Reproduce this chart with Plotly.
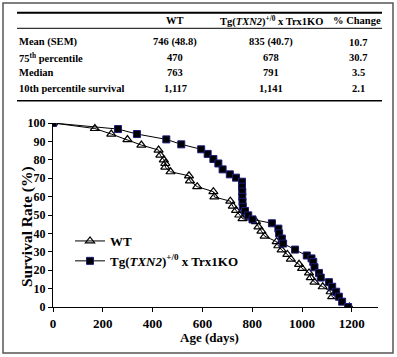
import plotly.graph_objects as go

# ---- data ----
wt_days = [0, 168, 234, 299, 355, 424, 431, 445, 451, 451, 472, 546, 550, 579, 644, 648,
           712, 722, 735, 748, 761, 815, 825, 837, 850, 898, 905, 918, 941, 955, 988, 1000,
           1028, 1035, 1050, 1083, 1115, 1121, 1190]
wt_surv = [100, 97, 94, 91, 88, 85.3, 82.5, 80, 78, 76, 73.5, 71.3, 68.6, 65.4, 62.7, 59.8,
           57.5, 54.8, 52.5, 50, 48, 46.4, 43.6, 41.2, 38.5, 35.5, 33.3, 31, 28.6, 26, 23.2, 21,
           18.5, 16, 13.5, 11, 8.3, 5.6, 0]

tg_days = [0, 261, 337, 455, 515, 595, 621, 644, 664, 681, 710, 735, 759, 759, 760, 760,
           761, 762, 771, 784, 801, 879, 905, 908, 919, 924, 972, 1019, 1038, 1045, 1050,
           1068, 1075, 1108, 1121, 1137, 1148, 1161, 1185]
tg_surv = [100, 96.7, 94, 91.1, 88.4, 85.7, 83.2, 80.4, 78, 74.8, 72.1, 70.3, 68.1, 65.4, 62.7, 59.9,
           57.2, 54.5, 52.2, 49.8, 47.6, 45.5, 42.6, 40, 37.2, 34.5, 31.2, 28, 26.4, 24.5, 21.6,
           18.5, 16, 13.5, 11, 8.3, 5.6, 2.9, 0]

x_ticks = [0, 200, 400, 600, 800, 1000, 1200]
y_ticks = [0, 10, 20, 30, 40, 50, 60, 70, 80, 90, 100]

table_header = ["", "WT", "Tg(<i>TXN2</i>)<sup>+/0</sup> x Trx1KO", "% Change"]
row_labels = ["Mean (SEM)", "75<sup>th</sup> percentile", "Median", "10th percentile survival"]
wt_col = ["746 (48.8)", "470", "763", "1,117"]
tg_col = ["835 (40.7)", "678", "791", "1,141"]
pct_col = ["10.7", "30.7", "3.5", "2.1"]

# ---- layout geometry (pixels) ----
W, H = 397, 357
L, R, T, B = 53, 19, 123, 50
PW, PH = W - L - R, H - T - B
FONT = "Liberation Serif"


def px(x):
    return (x - L) / PW


def py(y):
    return (H - B - y) / PH


fig = go.Figure()
fig.add_trace(go.Scatter(
    x=wt_days, y=wt_surv, mode="lines+markers", name="WT",
    line=dict(color="black", width=1),
    marker=dict(symbol="triangle-up-open", size=8, color="black", line=dict(width=1.2, color="black")),
))
fig.add_trace(go.Scatter(
    x=tg_days, y=tg_surv, mode="lines+markers",
    name="Tg(<i>TXN2</i>)<sup>+/0</sup> x Trx1KO",
    line=dict(color="black", width=1),
    marker=dict(symbol="square", size=7, color="black", line=dict(width=1, color="#1c1c7a")),
))

ann = []
col_x = [17, 175, 271, 357]
for j in (1, 2, 3):
    ann.append(dict(x=px(col_x[j]), y=py(20.7), text="<b>" + table_header[j] + "</b>", xanchor="center"))
row_y = [42.3, 57.3, 72.7, 88.3]
for i in range(4):
    ann.append(dict(x=px(col_x[0]), y=py(row_y[i]), text="<b>" + row_labels[i] + "</b>", xanchor="left"))
    ann.append(dict(x=px(col_x[1]), y=py(row_y[i]), text="<b>" + wt_col[i] + "</b>", xanchor="center"))
    ann.append(dict(x=px(col_x[2]), y=py(row_y[i]), text="<b>" + tg_col[i] + "</b>", xanchor="center"))
    ann.append(dict(x=px(col_x[3] + 1), y=py(row_y[i]), text="<b>" + pct_col[i] + "</b>", xanchor="center"))
for a in ann:
    a.update(xref="paper", yref="paper", showarrow=False, yanchor="middle",
             font=dict(family=FONT, size=10.5, color="black"))

# axis titles
ann.append(dict(x=px(209), y=py(337), xref="paper", yref="paper", showarrow=False,
                text="<b>Age (days)</b>", xanchor="center", yanchor="middle",
                font=dict(family=FONT, size=13, color="black")))
ann.append(dict(x=px(27), y=py(227), xref="paper", yref="paper", showarrow=False,
                text="<b>Survival Rate (%)</b>", textangle=-90, xanchor="center", yanchor="middle",
                font=dict(family=FONT, size=15.5, color="black")))

shapes = [
    dict(type="line", xref="paper", yref="paper", x0=px(17), x1=px(382), y0=py(12.7), y1=py(12.7),
         line=dict(color="black", width=2)),
    dict(type="line", xref="paper", yref="paper", x0=px(17), x1=px(382), y0=py(28.3), y1=py(28.3),
         line=dict(color="black", width=1)),
    dict(type="line", xref="paper", yref="paper", x0=px(17), x1=px(382), y0=py(100.7), y1=py(100.7),
         line=dict(color="black", width=1.5)),
    dict(type="rect", xref="paper", yref="paper", x0=px(3), x1=px(393), y0=py(3), y1=py(353),
         line=dict(color="#555555", width=1.5), fillcolor="rgba(0,0,0,0)", layer="below"),
]

fig.update_layout(
    width=W, height=H,
    margin=dict(l=L, r=R, t=T, b=B, pad=0),
    paper_bgcolor="white", plot_bgcolor="white",
    font=dict(family=FONT, color="black"),
    showlegend=True,
    legend=dict(x=px(70), y=py(226), xanchor="left", yanchor="top",
                bgcolor="rgba(0,0,0,0)", itemwidth=30,
                font=dict(family=FONT, size=13, color="black", weight="bold"),
                tracegroupgap=0),
    annotations=ann,
    shapes=shapes,
)
fig.update_xaxes(range=[0, 1305], tickvals=x_ticks, ticks="outside", ticklen=4, tickwidth=1,
                 tickcolor="black", showline=True, linecolor="black", linewidth=1,
                 showgrid=False, zeroline=False,
                 tickfont=dict(family=FONT, size=13, color="black", weight="bold"))
fig.update_yaxes(range=[0, 100], tickvals=y_ticks, ticks="outside", ticklen=4, tickwidth=1,
                 tickcolor="black", showline=True, linecolor="black", linewidth=1,
                 showgrid=False, zeroline=False,
                 tickfont=dict(family=FONT, size=12, color="black", weight="bold"))

fig.write_html("out.html", config={"displayModeBar": False},
               post_script="document.body.style.margin='0';document.body.style.overflow='hidden';")
